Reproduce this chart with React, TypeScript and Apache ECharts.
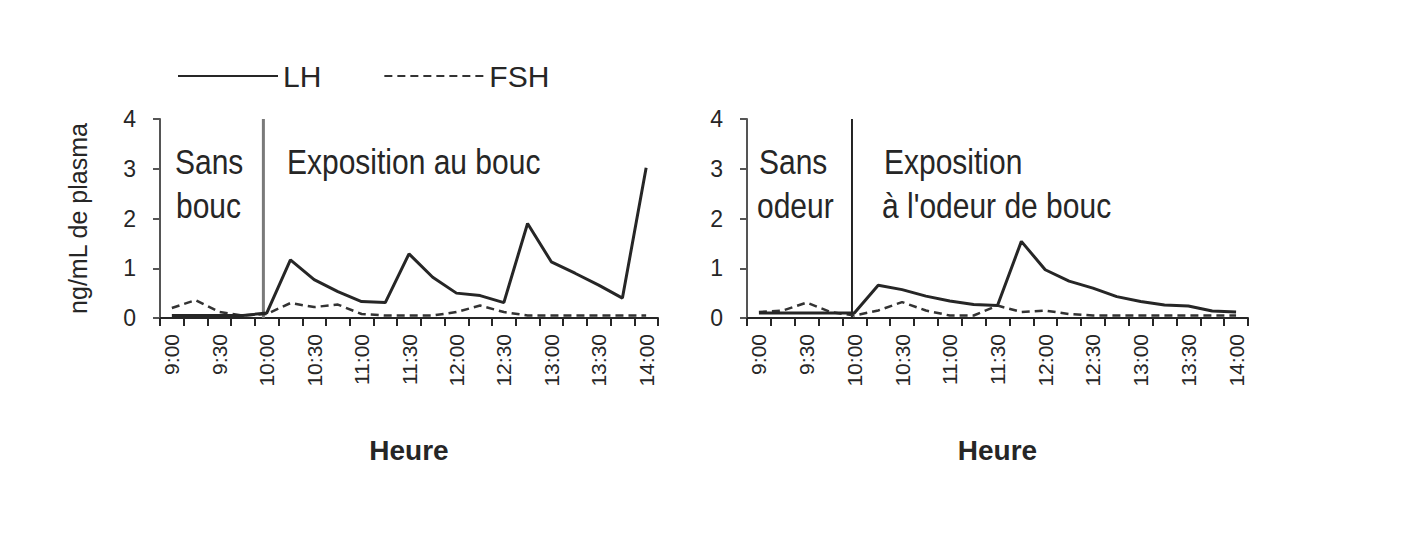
import React, { useEffect, useRef } from "react";
import * as echarts from "echarts";

// 15-minute sampling times (labels shown every 30 min)
const timeLabels = [
  "9:00", "9:15", "9:30", "9:45", "10:00", "10:15", "10:30", "10:45", "11:00", "11:15", "11:30",
  "11:45", "12:00", "12:15", "12:30", "12:45", "13:00", "13:15", "13:30", "13:45", "14:00",
];

// Left panel: "Exposition au bouc"
const lhBouc = [0.05, 0.05, 0.05, 0.05, 0.1, 1.17, 0.77, 0.53, 0.33, 0.31, 1.29, 0.82, 0.5, 0.45, 0.31, 1.9, 1.13, 0.9, 0.66, 0.4, 3.02];
const fshBouc = [0.2, 0.36, 0.12, 0.05, 0.08, 0.3, 0.22, 0.27, 0.08, 0.05, 0.05, 0.05, 0.12, 0.25, 0.12, 0.05, 0.05, 0.05, 0.05, 0.05, 0.05];

// Right panel: "Exposition à l'odeur de bouc"
const lhOdeur = [0.1, 0.1, 0.1, 0.1, 0.1, 0.66, 0.57, 0.44, 0.34, 0.27, 0.25, 1.54, 0.97, 0.74, 0.6, 0.43, 0.33, 0.26, 0.24, 0.14, 0.12];
const fshOdeur = [0.12, 0.15, 0.31, 0.12, 0.05, 0.15, 0.32, 0.15, 0.05, 0.05, 0.25, 0.12, 0.15, 0.08, 0.05, 0.05, 0.05, 0.05, 0.05, 0.05, 0.05];

// Start of exposure, in category units from the axis origin
const exposureStartBouc = 4.36;
const exposureStartOdeur = 4.4;

const yMin = 0;
const yMax = 4;
const yInterval = 1;

export default function App() {
  const ref = useRef<HTMLDivElement>(null);

  useEffect(() => {
    if (!ref.current) return;
    const chart = echarts.init(ref.current, null, { renderer: "svg" });
    const font = "Liberation Sans, Arial, sans-serif";
    const ink = "#262626";

    const catAxis = (gridIndex: number) => ({
      type: "category",
      gridIndex,
      data: timeLabels,
      boundaryGap: true,
      axisLine: { lineStyle: { color: ink, width: 2 } },
      axisTick: { show: true, interval: 0, length: 8, lineStyle: { color: ink, width: 2 } },
      axisLabel: { interval: 1, rotate: 90, fontSize: 21, color: ink, fontFamily: font, margin: 16 },
      name: "Heure",
      nameLocation: "middle",
      nameGap: 118,
      nameTextStyle: { fontSize: 28, fontWeight: "bold", color: ink, fontFamily: font },
    });

    const valAxis = (gridIndex: number, withName: boolean) => ({
      type: "value",
      gridIndex,
      min: yMin,
      max: yMax,
      interval: yInterval,
      splitLine: { show: false },
      axisLine: { show: true, lineStyle: { color: "#555", width: 2 } },
      axisTick: { show: true, length: 7, lineStyle: { color: "#555", width: 2 } },
      axisLabel: { fontSize: 23, color: ink, fontFamily: font, margin: 24 },
      name: withName ? "ng/mL de plasma" : "",
      nameLocation: "middle",
      nameRotate: 90,
      nameGap: 70,
      nameTextStyle: { fontSize: 25, color: ink, fontFamily: font },
    });

    const hiddenX = (gridIndex: number) => ({
      type: "value",
      gridIndex,
      min: 0,
      max: timeLabels.length,
      show: false,
    });

    const lhStyle = { color: ink, width: 3 };
    const fshStyle = { color: "#333", width: 2.5, type: [8, 5] };

    const annot = (text: string, x: number, y: number) => ({
      type: "text",
      x,
      y,
      scaleY: 1.15,
      style: { text, fontSize: 30, fill: ink, fontFamily: font, verticalAlign: "middle" },
    });

    chart.setOption({
      animation: false,
      backgroundColor: "#ffffff",
      legend: {
        data: ["LH", "FSH"],
        left: 172,
        top: 56,
        itemWidth: 100,
        itemHeight: 14,
        itemGap: 62,
        itemStyle: { color: "rgba(0,0,0,0)", borderWidth: 0, opacity: 0 },
        textStyle: { fontSize: 30, color: ink, fontFamily: font },
      },
      grid: [
        { left: 160, top: 119, width: 498, height: 199 },
        { left: 747, top: 119, width: 501, height: 199 },
      ],
      xAxis: [catAxis(0), catAxis(1), hiddenX(0), hiddenX(1)],
      yAxis: [valAxis(0, true), valAxis(1, false)],
      series: [
        {
          name: "LH", type: "line", xAxisIndex: 0, yAxisIndex: 0, data: lhBouc,
          symbol: "none", lineStyle: lhStyle, itemStyle: { color: ink }, z: 4,
        },
        {
          name: "FSH", type: "line", xAxisIndex: 0, yAxisIndex: 0, data: fshBouc,
          symbol: "none", lineStyle: fshStyle, itemStyle: { color: "#333" }, z: 3,
        },
        {
          name: "LH", type: "line", xAxisIndex: 1, yAxisIndex: 1, data: lhOdeur,
          symbol: "none", lineStyle: lhStyle, itemStyle: { color: ink }, z: 4,
        },
        {
          name: "FSH", type: "line", xAxisIndex: 1, yAxisIndex: 1, data: fshOdeur,
          symbol: "none", lineStyle: fshStyle, itemStyle: { color: "#333" }, z: 3,
        },
        {
          name: "startBouc", type: "line", xAxisIndex: 2, yAxisIndex: 0, silent: true,
          data: [[exposureStartBouc, yMin], [exposureStartBouc, yMax]],
          symbol: "none", lineStyle: { color: "#7a7a7a", width: 3 }, z: 2,
        },
        {
          name: "startOdeur", type: "line", xAxisIndex: 3, yAxisIndex: 1, silent: true,
          data: [[exposureStartOdeur, yMin], [exposureStartOdeur, yMax]],
          symbol: "none", lineStyle: { color: "#222", width: 2 }, z: 2,
        },
      ],
      graphic: [
        annot("Sans", 175, 162),
        annot("bouc", 176, 206),
        annot("Exposition au bouc", 287, 162),
        annot("Sans", 759, 162),
        annot("odeur", 757, 206),
        annot("Exposition", 884, 162),
        annot("à l'odeur de bouc", 882, 206),
      ],
    });

    return () => chart.dispose();
  }, []);

  return (
    <div
      ref={ref}
      style={{ position: "fixed", left: 0, top: 0, width: 1423, height: 546, background: "#fff" }}
    />
  );
}
